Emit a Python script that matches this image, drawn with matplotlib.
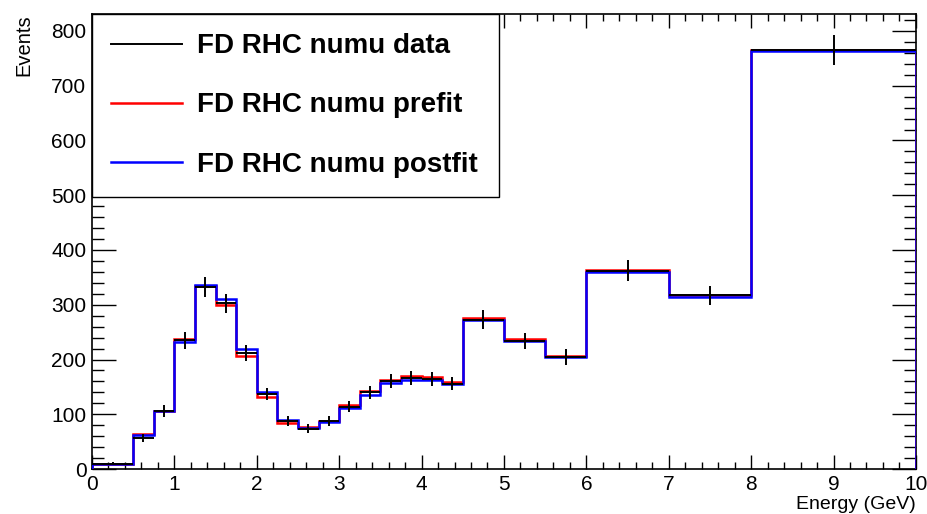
import matplotlib
matplotlib.use("Agg")
import matplotlib.pyplot as plt
import numpy as np
from matplotlib.ticker import MultipleLocator

plt.rcParams['font.family'] = ['Liberation Sans', 'DejaVu Sans']

# bin edges in GeV
edges = [0, 0.5, 0.75, 1.0, 1.25, 1.5, 1.75, 2.0, 2.25, 2.5, 2.75,
         3.0, 3.25, 3.5, 3.75, 4.0, 4.25, 4.5, 5.0, 5.5, 6.0, 7.0, 8.0, 10.0]

data = [10, 57, 106, 235, 333, 303, 212, 137, 88, 74, 88,
        114, 140, 161, 166, 165, 156, 273, 234, 205, 362, 317, 765]
prefit = [9, 64, 106, 237, 335, 300, 206, 132, 84, 76, 88,
          117, 143, 163, 169, 168, 159, 276, 237, 206, 364, 318, 766]
postfit = [9, 63, 106, 232, 336, 310, 219, 141, 89, 75, 86,
           112, 136, 158, 162, 162, 155, 272, 233, 204, 360, 315, 763]

edges = np.array(edges)
centers = 0.5 * (edges[1:] + edges[:-1])
halfw = 0.5 * np.diff(edges)
data = np.array(data, dtype=float)

fig = plt.figure(figsize=(9.28, 5.14), dpi=100)
ax = fig.add_axes([0.0991, 0.0875, 0.8879, 0.8853])

ax.stairs(prefit, edges, baseline=0, color='#ff0000', lw=1.8, zorder=3)
ax.stairs(postfit, edges, baseline=0, color='#0000ff', lw=1.8, zorder=4)
ax.errorbar(centers, data, xerr=halfw, yerr=np.sqrt(data), fmt='none',
            ecolor='black', elinewidth=1.4, capsize=0, zorder=5)

ax.set_xlim(0, 10)
ax.set_ylim(0, 831)

ax.xaxis.set_major_locator(MultipleLocator(1))
ax.xaxis.set_minor_locator(MultipleLocator(0.2))
ax.yaxis.set_major_locator(MultipleLocator(100))
ax.yaxis.set_minor_locator(MultipleLocator(20))
ax.tick_params(which='both', direction='in', top=True, right=True,
               labelsize=15, colors='black')
ax.tick_params(axis='x', which='major', length=10, width=1, pad=4)
ax.tick_params(axis='x', which='minor', length=5, width=1)
ax.tick_params(axis='y', which='major', length=17, width=1, pad=4)
ax.tick_params(axis='y', which='minor', length=8.5, width=1)
for s in ax.spines.values():
    s.set_linewidth(1.2)

ax.set_xlabel('Energy (GeV)', fontsize=14, loc='right', labelpad=2)
ax.set_ylabel('Events', fontsize=14.5, loc='top', labelpad=13)

handles = [plt.Line2D([], [], color='black', lw=1.4),
           plt.Line2D([], [], color='#ff0000', lw=1.8),
           plt.Line2D([], [], color='#0000ff', lw=1.8)]
labels = ['FD RHC numu data', 'FD RHC numu prefit', 'FD RHC numu postfit']
leg = ax.legend(handles, labels, loc='upper left',
                bbox_to_anchor=(0, 0, 0.494, 1), mode='expand',
                borderaxespad=0, fancybox=False, framealpha=1,
                edgecolor='black', prop={'weight': 'bold', 'size': 20},
                handlelength=2.55, handletextpad=0.54, labelspacing=1.19,
                borderpad=0.7)
leg.get_frame().set_linewidth(1.0)
leg.set_zorder(10)

fig.savefig('out.png', dpi=100)
